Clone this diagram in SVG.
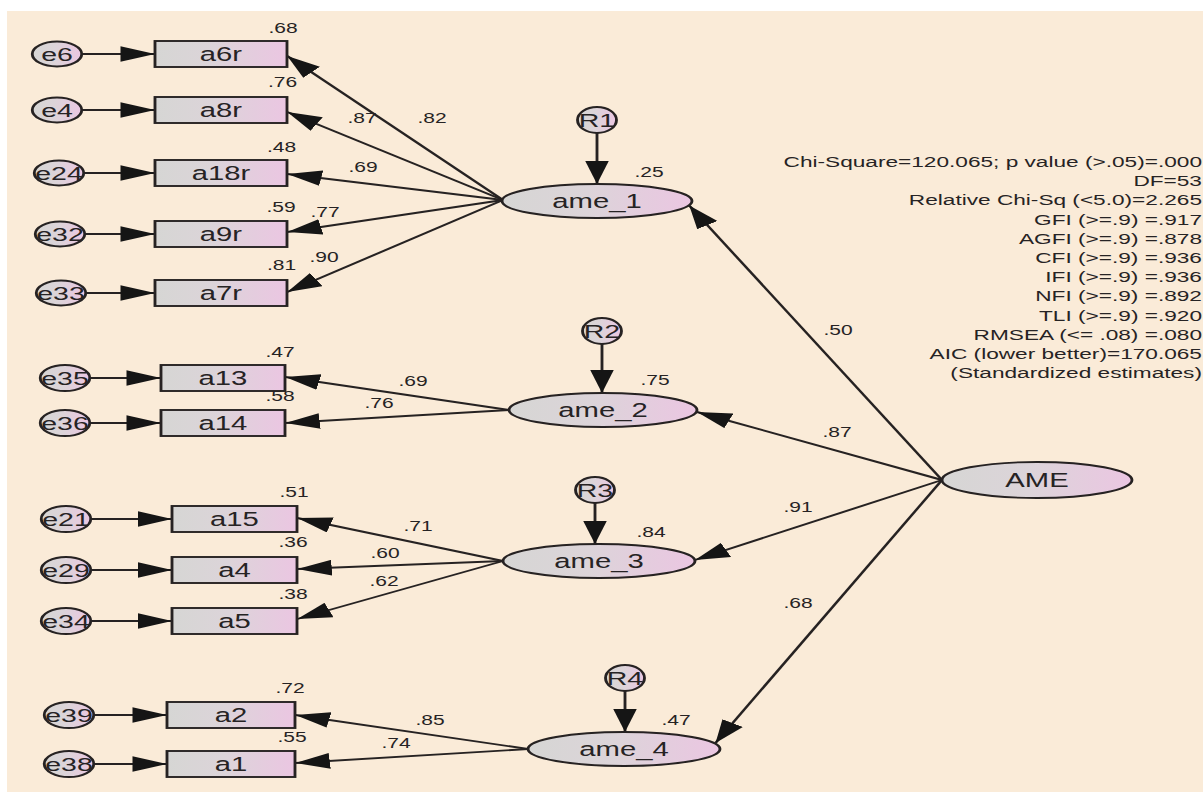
<svg xmlns="http://www.w3.org/2000/svg" width="1203" height="794" viewBox="0 0 1203 794">
<defs>
<linearGradient id="fillg" x1="0" y1="0" x2="1" y2="0">
<stop offset="0" stop-color="#d6d6d4"/>
<stop offset="0.45" stop-color="#dcd4d9"/>
<stop offset="1" stop-color="#ebc6e2"/>
</linearGradient>
<marker id="ah" markerUnits="userSpaceOnUse" markerWidth="23" markerHeight="16" viewBox="0 0 22 15" refX="22" refY="7.5" orient="auto">
<path d="M0,0 L22,7.5 L0,15 z" fill="#151515"/>
</marker>
<style>
.n{fill:url(#fillg);stroke:#262222;stroke-width:1.9}
.c line{stroke:#262222;stroke-width:1.9;marker-end:url(#ah)}
text{font-family:"Liberation Sans",Arial,Helvetica,sans-serif;fill:#262324}
.lb{font-size:19.5px;text-anchor:middle}
.le{font-size:19px;text-anchor:middle}
.v{font-size:14px;text-anchor:middle}
.st{font-size:15.1px;text-anchor:end}
</style>
</defs>
<rect width="1203" height="794" fill="#ffffff"/>
<rect x="7" y="11" width="1196" height="781" fill="#faebd8"/>
<g transform="scale(1.5 1)">
<g id="connectors" class="c">
<line x1="54.5" y1="54" x2="103.33" y2="54"/>
<line x1="54.5" y1="110" x2="103.33" y2="110"/>
<line x1="55.8" y1="173" x2="103.33" y2="173"/>
<line x1="56.5" y1="234" x2="103.33" y2="234"/>
<line x1="57.2" y1="293" x2="103.33" y2="293"/>
<line x1="59.8" y1="378" x2="107.33" y2="378"/>
<line x1="59.8" y1="423" x2="107.33" y2="423"/>
<line x1="60.5" y1="519" x2="114.67" y2="519"/>
<line x1="60.5" y1="570" x2="114.67" y2="570"/>
<line x1="60.5" y1="621" x2="114.67" y2="621"/>
<line x1="62.5" y1="715" x2="111.33" y2="715"/>
<line x1="62.5" y1="764" x2="111.33" y2="764"/>
<line x1="398" y1="133" x2="398" y2="184"/>
<line x1="401.33" y1="344" x2="401.33" y2="393"/>
<line x1="396.67" y1="503" x2="396.67" y2="544"/>
<line x1="416.67" y1="691" x2="416.67" y2="732"/>
<line x1="335.33" y1="200" x2="191.5" y2="56"/>
<line x1="335.33" y1="200" x2="191.5" y2="112"/>
<line x1="335.33" y1="200" x2="191.5" y2="174"/>
<line x1="335.33" y1="200" x2="191.5" y2="232"/>
<line x1="335.33" y1="200" x2="191.5" y2="292"/>
<line x1="339.33" y1="410" x2="190.2" y2="377"/>
<line x1="339.33" y1="410" x2="190.2" y2="423"/>
<line x1="335.33" y1="561" x2="198.2" y2="518"/>
<line x1="335.33" y1="561" x2="198.2" y2="569"/>
<line x1="335.33" y1="561" x2="198.2" y2="619"/>
<line x1="352" y1="749" x2="196.9" y2="715"/>
<line x1="352" y1="749" x2="196.9" y2="763"/>
<line x1="628" y1="480" x2="459.5" y2="205.5"/>
<line x1="628" y1="480" x2="464.67" y2="412"/>
<line x1="628" y1="480" x2="463.33" y2="560"/>
<line x1="628" y1="480" x2="477" y2="743"/>
<text class="v" x="241.33" y="123">.87</text>
<text class="v" x="288" y="123">.82</text>
<text class="v" x="242" y="172">.69</text>
<text class="v" x="216.67" y="217">.77</text>
<text class="v" x="216" y="262">.90</text>
<text class="v" x="275.33" y="386">.69</text>
<text class="v" x="252.67" y="408">.76</text>
<text class="v" x="278.67" y="531">.71</text>
<text class="v" x="256.67" y="558">.60</text>
<text class="v" x="256" y="586">.62</text>
<text class="v" x="286.67" y="725">.85</text>
<text class="v" x="264" y="748">.74</text>
<text class="v" x="558.67" y="335">.50</text>
<text class="v" x="558" y="437">.87</text>
<text class="v" x="532" y="512">.91</text>
<text class="v" x="532" y="608">.68</text>
</g>
<g id="e6"><ellipse class="n" cx="38" cy="54" rx="16.5" ry="12.5"/><text class="le" x="38" y="60.8">e6</text></g>
<g id="e4"><ellipse class="n" cx="38" cy="110" rx="16.5" ry="12.5"/><text class="le" x="38" y="116.8">e4</text></g>
<g id="e24"><ellipse class="n" cx="39.33" cy="173" rx="16.5" ry="12.5"/><text class="le" x="39.33" y="179.8">e24</text></g>
<g id="e32"><ellipse class="n" cx="40" cy="234" rx="16.5" ry="12.5"/><text class="le" x="40" y="240.8">e32</text></g>
<g id="e33"><ellipse class="n" cx="40.67" cy="293" rx="16.5" ry="12.5"/><text class="le" x="40.67" y="299.8">e33</text></g>
<g id="e35"><ellipse class="n" cx="43.33" cy="378" rx="16.5" ry="13"/><text class="le" x="43.33" y="384.8">e35</text></g>
<g id="e36"><ellipse class="n" cx="43.33" cy="423" rx="16.5" ry="13"/><text class="le" x="43.33" y="429.8">e36</text></g>
<g id="e21"><ellipse class="n" cx="44" cy="519" rx="16.5" ry="13"/><text class="le" x="44" y="525.8">e21</text></g>
<g id="e29"><ellipse class="n" cx="44" cy="570" rx="16.5" ry="13"/><text class="le" x="44" y="576.8">e29</text></g>
<g id="e34"><ellipse class="n" cx="44" cy="621" rx="16.5" ry="13"/><text class="le" x="44" y="627.8">e34</text></g>
<g id="e39"><ellipse class="n" cx="46" cy="715" rx="16.5" ry="13"/><text class="le" x="46" y="721.8">e39</text></g>
<g id="e38"><ellipse class="n" cx="46" cy="764" rx="16.5" ry="13"/><text class="le" x="46" y="770.8">e38</text></g>
<g id="a6r"><rect class="n" x="103.33" y="41" width="88" height="26"/><text class="lb" x="147.33" y="61">a6r</text><text class="v" x="188.67" y="33">.68</text></g>
<g id="a8r"><rect class="n" x="103.33" y="97" width="88" height="26"/><text class="lb" x="147.33" y="117">a8r</text><text class="v" x="188.33" y="87">.76</text></g>
<g id="a18r"><rect class="n" x="103.33" y="160" width="88" height="26"/><text class="lb" x="147.33" y="180">a18r</text><text class="v" x="187.67" y="152">.48</text></g>
<g id="a9r"><rect class="n" x="103.33" y="221" width="88" height="26"/><text class="lb" x="147.33" y="241">a9r</text><text class="v" x="187.33" y="212">.59</text></g>
<g id="a7r"><rect class="n" x="103.33" y="280" width="88" height="26"/><text class="lb" x="147.33" y="300">a7r</text><text class="v" x="187.67" y="270">.81</text></g>
<g id="a13"><rect class="n" x="107.33" y="365" width="82.67" height="26"/><text class="lb" x="148.67" y="385">a13</text><text class="v" x="186.67" y="357">.47</text></g>
<g id="a14"><rect class="n" x="107.33" y="410" width="82.67" height="26"/><text class="lb" x="148.67" y="430">a14</text><text class="v" x="186.67" y="401">.58</text></g>
<g id="a15"><rect class="n" x="114.67" y="506" width="83.33" height="26"/><text class="lb" x="156.33" y="526">a15</text><text class="v" x="196" y="497">.51</text></g>
<g id="a4"><rect class="n" x="114.67" y="557" width="83.33" height="26"/><text class="lb" x="156.33" y="577">a4</text><text class="v" x="195.33" y="547">.36</text></g>
<g id="a5"><rect class="n" x="114.67" y="608" width="83.33" height="26"/><text class="lb" x="156.33" y="628">a5</text><text class="v" x="195.33" y="599">.38</text></g>
<g id="a2"><rect class="n" x="111.33" y="702" width="85.33" height="26"/><text class="lb" x="154" y="722">a2</text><text class="v" x="193.33" y="693">.72</text></g>
<g id="a1"><rect class="n" x="111.33" y="751" width="85.33" height="26"/><text class="lb" x="154" y="771">a1</text><text class="v" x="194.67" y="742">.55</text></g>
<g id="R1"><circle class="n" cx="398" cy="120" r="13"/><text class="le" x="398" y="126.8">R1</text></g>
<g id="R2"><circle class="n" cx="401.33" cy="331" r="13"/><text class="le" x="401.33" y="337.8">R2</text></g>
<g id="R3"><circle class="n" cx="396.67" cy="490" r="13"/><text class="le" x="396.67" y="496.8">R3</text></g>
<g id="R4"><circle class="n" cx="416.67" cy="678" r="13"/><text class="le" x="416.67" y="684.8">R4</text></g>
<g id="ame_1"><ellipse class="n" cx="398" cy="201" rx="63.33" ry="17"/><text class="lb" x="398" y="208">ame_1</text><text class="v" x="432.67" y="177">.25</text></g>
<g id="ame_2"><ellipse class="n" cx="402" cy="410" rx="62.67" ry="17"/><text class="lb" x="402" y="417">ame_2</text><text class="v" x="436.67" y="385">.75</text></g>
<g id="ame_3"><ellipse class="n" cx="399.33" cy="561" rx="64" ry="17"/><text class="lb" x="399.33" y="568">ame_3</text><text class="v" x="434" y="537">.84</text></g>
<g id="ame_4"><ellipse class="n" cx="416" cy="749" rx="64" ry="17"/><text class="lb" x="416" y="756">ame_4</text><text class="v" x="450.67" y="725">.47</text></g>
<g id="AME"><ellipse class="n" cx="691.33" cy="480" rx="63.33" ry="18"/><text class="lb" x="691.33" y="487">AME</text></g>
<g id="fit-stats">
<text class="st" x="801.33" y="167">Chi-Square=120.065; p value (&gt;.05)=.000</text>
<text class="st" x="801.33" y="186.2">DF=53</text>
<text class="st" x="801.33" y="205.4">Relative Chi-Sq (&lt;5.0)=2.265</text>
<text class="st" x="801.33" y="224.6">GFI (&gt;=.9) =.917</text>
<text class="st" x="801.33" y="243.8">AGFI (&gt;=.9) =.878</text>
<text class="st" x="801.33" y="263">CFI (&gt;=.9) =.936</text>
<text class="st" x="801.33" y="282.2">IFI (&gt;=.9) =.936</text>
<text class="st" x="801.33" y="301.4">NFI (&gt;=.9) =.892</text>
<text class="st" x="801.33" y="320.6">TLI (&gt;=.9) =.920</text>
<text class="st" x="801.33" y="339.8">RMSEA (&lt;= .08) =.080</text>
<text class="st" x="801.33" y="359">AIC (lower better)=170.065</text>
<text class="st" x="801.33" y="378.2">(Standardized estimates)</text>
</g>
</g>
</svg>
